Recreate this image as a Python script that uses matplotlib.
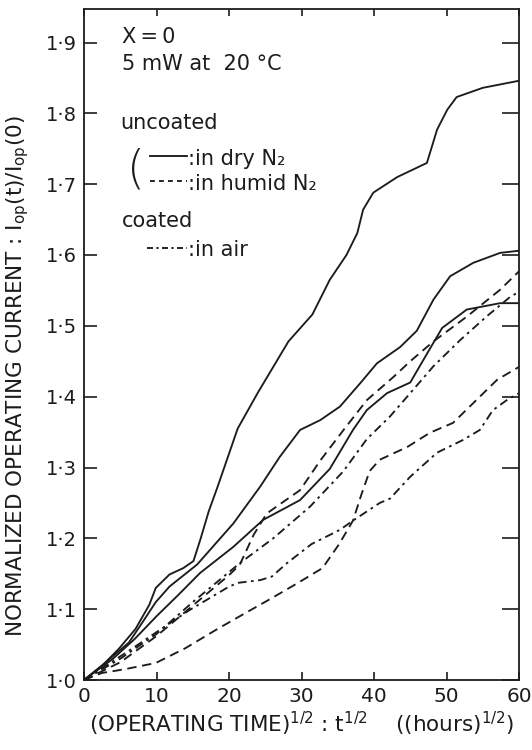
import matplotlib
matplotlib.use("Agg")
import matplotlib.pyplot as plt

plt.rcParams['font.family'] = ['DejaVu Sans']
plt.rcParams['mathtext.fontset'] = 'dejavusans'

INK = '#1c1c1c'

# ---- data: normalized operating current vs sqrt(operating time) ----
# uncoated lasers in dry N2 (solid)
dry1_x = [0, 2.5, 4.8, 7.1, 9.0, 9.9, 11.8, 13.7, 15.1, 16.1, 17.2, 18.4, 21.2, 24.0, 28.2,
          31.5, 33.9, 36.2, 37.7, 38.5, 39.9, 43.2, 47.3, 48.7, 50.1, 51.4, 55.0, 60]
dry1_y = [1.0, 1.02, 1.044, 1.072, 1.106, 1.130, 1.149, 1.158, 1.168, 1.20, 1.238, 1.272,
          1.355, 1.406, 1.478, 1.516, 1.565, 1.60, 1.631, 1.664, 1.688, 1.710, 1.730,
          1.777, 1.805, 1.823, 1.836, 1.846]

dry2_x = [0, 3, 6.2, 8.1, 9.9, 11.8, 15.6, 20.6, 24.3, 27.0, 29.8, 32.6, 35.3, 38.1, 40.4,
          43.6, 45.9, 48.2, 50.5, 53.7, 57.4, 60]
dry2_y = [1.0, 1.025, 1.053, 1.082, 1.110, 1.132, 1.163, 1.221, 1.273, 1.315, 1.353, 1.367,
          1.386, 1.419, 1.447, 1.470, 1.493, 1.537, 1.570, 1.589, 1.603, 1.606]

dry3_x = [0, 4, 7, 10, 13, 16, 20.6, 24.7, 29.8, 33.9, 37.1, 39.0, 41.8, 45.0, 47.5, 49.4,
          52.8, 57.4, 60]
dry3_y = [1.0, 1.03, 1.058, 1.09, 1.12, 1.151, 1.188, 1.226, 1.254, 1.298, 1.353, 1.381,
          1.405, 1.420, 1.464, 1.497, 1.523, 1.532, 1.532]

# uncoated lasers in humid N2 (dashed)
hum1_x = [0, 5, 10, 15, 20, 21.5, 23.4, 25.2, 27.0, 29.8, 32.6, 35.8, 39.0, 42.7, 45.0,
          48.2, 52.8, 57.4, 60]
hum1_y = [1.0, 1.025, 1.062, 1.105, 1.148, 1.163, 1.205, 1.235, 1.248, 1.268, 1.31, 1.353,
          1.395, 1.428, 1.45, 1.478, 1.513, 1.551, 1.577]

hum2_x = [0, 2.5, 5.5, 9.9, 14, 18.4, 22, 25.8, 29.5, 32.9, 35.2, 37.1, 38.2, 39.4, 40.8,
          44.6, 47.7, 50.9, 53.7, 57.0, 60]
hum2_y = [1.0, 1.010, 1.015, 1.024, 1.045, 1.072, 1.093, 1.115, 1.137, 1.158, 1.192, 1.225,
          1.26, 1.295, 1.311, 1.329, 1.349, 1.363, 1.391, 1.424, 1.442]

# coated lasers in air (dash-dot)
air1_x = [0, 5, 10, 15, 21.5, 26.1, 31.2, 35.8, 39.0, 42.2, 45.0, 48.2, 51.9, 55.5, 58.8, 60]
air1_y = [1.0, 1.03, 1.065, 1.11, 1.165, 1.20, 1.245, 1.295, 1.34, 1.372, 1.405, 1.443,
          1.480, 1.513, 1.541, 1.548]

air2_x = [0, 6.3, 10.5, 14.6, 19.7, 21.1, 24.3, 25.9, 28.0, 31.4, 35.3, 37.1, 40.8, 42.2,
          45.0, 48.7, 52.3, 54.6, 56.4, 58.3, 60]
air2_y = [1.0, 1.042, 1.071, 1.099, 1.130, 1.137, 1.141, 1.146, 1.165, 1.192, 1.212, 1.225,
          1.25, 1.256, 1.287, 1.321, 1.339, 1.353, 1.381, 1.395, 1.405]

x_ticks = [0, 10, 20, 30, 40, 50, 60]
y_ticks = [1.0, 1.1, 1.2, 1.3, 1.4, 1.5, 1.6, 1.7, 1.8, 1.9]
y_tick_labels = ['1·0', '1·1', '1·2', '1·3', '1·4', '1·5', '1·6', '1·7', '1·8', '1·9']

LW = 1.35
DASH = (0, (5.0, 3.0))
DASHDOT = (0, (4.6, 2.4, 1.4, 2.4))

fig = plt.figure(figsize=(5.32, 7.5), dpi=100)
ax = fig.add_axes([84 / 532, 1 - 680 / 750, 435 / 532, 671.5 / 750])

for xs, ys in [(dry1_x, dry1_y), (dry2_x, dry2_y), (dry3_x, dry3_y)]:
    ax.plot(xs, ys, color=INK, lw=LW, ls='-', solid_joinstyle='round')
for xs, ys in [(hum1_x, hum1_y), (hum2_x, hum2_y)]:
    ax.plot(xs, ys, color=INK, lw=LW, ls=DASH)
for xs, ys in [(air1_x, air1_y), (air2_x, air2_y)]:
    ax.plot(xs, ys, color=INK, lw=LW, ls=DASHDOT)

ax.set_xlim(0, 60)
ax.set_ylim(1.0, 1.948)
ax.set_xticks(x_ticks)
ax.set_xticklabels([str(v) for v in x_ticks])
ax.set_yticks(y_ticks)
ax.set_yticklabels(y_tick_labels)

for s in ax.spines.values():
    s.set_linewidth(1.3)
    s.set_color(INK)
ax.tick_params(axis='x', direction='in', length=6, width=1.2, top=True, labelsize=14.5,
               colors=INK, pad=5)
ax.tick_params(axis='y', direction='in', length=9.5, width=1.2, right=True, labelsize=14,
               colors=INK, pad=5)
# right-hand ticks run a little longer than the left-hand ones
for tk in ax.yaxis.get_major_ticks():
    tk.tick2line.set_markersize(12)
for tk in ax.xaxis.get_major_ticks():
    tk.tick2line.set_markersize(5)

ax.set_xlabel(r'(OPERATING TIME)$^{1/2}$ : t$^{1/2}$    ((hours)$^{1/2}$)',
              fontsize=15.5, color=INK, labelpad=3)
fig.text(0.034, 0.499,
         r'NORMALIZED OPERATING CURRENT : $\mathrm{I_{op}(t)/I_{op}(0)}$',
         rotation=90, ha='center', va='center', fontsize=15.5, color=INK)

# annotation block
t = ax.transAxes
FS = 15
ax.text(0.087, 0.958, 'X\u2009=\u20090', transform=t, fontsize=FS, color=INK, va='center')
ax.text(0.087, 0.918, '5 mW at  20 °C', transform=t, fontsize=FS, color=INK, va='center')
ax.text(0.083, 0.830, 'uncoated', transform=t, fontsize=FS, color=INK, va='center')
ax.text(0.098, 0.760, '(', transform=t, fontsize=33, color=INK, va='center',
        fontweight='light')
ax.plot([0.152, 0.237], [0.780, 0.780], transform=t, color=INK, lw=LW, ls='-')
ax.text(0.238, 0.776, ':in dry N₂', transform=t, fontsize=FS, color=INK, va='center')
ax.plot([0.152, 0.237], [0.743, 0.743], transform=t, color=INK, lw=LW, ls=(0, (2.6, 2.2)))
ax.text(0.238, 0.739, ':in humid N₂', transform=t, fontsize=FS, color=INK, va='center')
ax.text(0.087, 0.683, 'coated', transform=t, fontsize=FS, color=INK, va='center')
ax.plot([0.145, 0.237], [0.644, 0.644], transform=t, color=INK, lw=LW,
        ls=(0, (3.2, 1.8, 1.2, 1.8)))
ax.text(0.238, 0.641, ':in air', transform=t, fontsize=FS, color=INK, va='center')

fig.savefig('out.png', dpi=100, facecolor='white')
